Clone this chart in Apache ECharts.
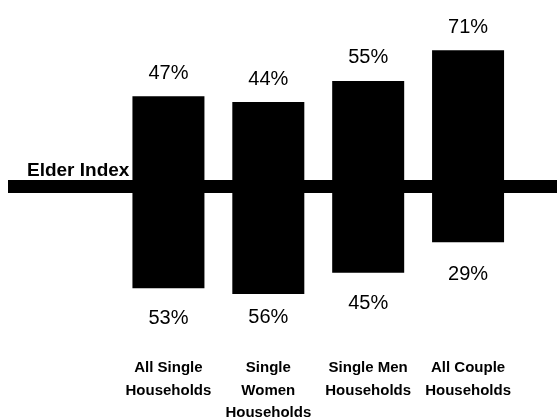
<!DOCTYPE html>
<html>
<head>
<meta charset="utf-8">
<script src="https://cdn.jsdelivr.net/npm/echarts@6/dist/echarts.min.js"></script>
<style>html,body{margin:0;padding:0;background:#fff}#c{width:557px;height:420px}</style>
</head>
<body>
<div id="c"></div>
<script>
const categories = ['All Single\nHouseholds', 'Single\nWomen\nHouseholds', 'Single Men\nHouseholds', 'All Couple\nHouseholds'];
const aboveIndex = [47, 44, 55, 71];
const belowIndex = [53, 56, 45, 29];
const belowLabelGap = [20, 14, 21, 22];
const lineLabel = 'Elder Index';

const FONT = '"Liberation Sans", Arial, sans-serif';
const chart = echarts.init(document.getElementById('c'), null, {renderer: 'canvas'});
const yRange = {min: -80, max: 80};

chart.setOption({
  animation: false,
  backgroundColor: '#fff',
  grid: [
    {left: 8, right: 0, top: 33, bottom: 80, outerBoundsMode: 'none', containLabel: false},
    {left: 118.5, right: 39, top: 33, bottom: 80, outerBoundsMode: 'none', containLabel: false}
  ],
  xAxis: [
    {gridIndex: 0, type: 'value', min: 0, max: 1,
     axisLine: {show: true, onZero: true, lineStyle: {color: '#000', width: 13, cap: 'butt'}},
     axisTick: {show: false}, axisLabel: {show: false}, splitLine: {show: false}},
    {gridIndex: 1, type: 'category', data: categories,
     axisLine: {show: false}, axisTick: {show: false}, splitLine: {show: false},
     axisLabel: {interval: 0, margin: 17, color: '#000', fontFamily: FONT, fontWeight: 'bold',
                 fontSize: 15, lineHeight: 22.5}}
  ],
  yAxis: [
    {gridIndex: 0, type: 'value', min: yRange.min, max: yRange.max, show: false},
    {gridIndex: 1, type: 'value', min: yRange.min, max: yRange.max, show: false}
  ],
  series: [
    {type: 'bar', xAxisIndex: 1, yAxisIndex: 1, stack: 'a', barWidth: 72, z: 3,
     itemStyle: {color: '#000'},
     label: {show: true, position: 'top', distance: 13, color: '#000', fontFamily: FONT, fontSize: 20,
             formatter: p => Math.abs(p.value) + '%'},
     data: aboveIndex},
    {type: 'bar', xAxisIndex: 1, yAxisIndex: 1, stack: 'a', barWidth: 72, z: 3,
     itemStyle: {color: '#000'},
     label: {show: true, position: 'bottom', color: '#000', fontFamily: FONT, fontSize: 20,
             formatter: p => Math.abs(p.value) + '%'},
     data: belowIndex.map((v, i) => ({value: -v, label: {distance: belowLabelGap[i]}}))},
    {type: 'line', xAxisIndex: 0, yAxisIndex: 0, data: [], silent: true,
     markPoint: {symbol: 'rect', symbolSize: 0,
       data: [{coord: [0, 0], label: {show: true, formatter: lineLabel, position: 'insideBottomLeft',
               offset: [14, -1], color: '#000', fontFamily: FONT, fontWeight: 'bold', fontSize: 19, align: 'left'}}]}}
  ]
});
</script>
</body>
</html>
